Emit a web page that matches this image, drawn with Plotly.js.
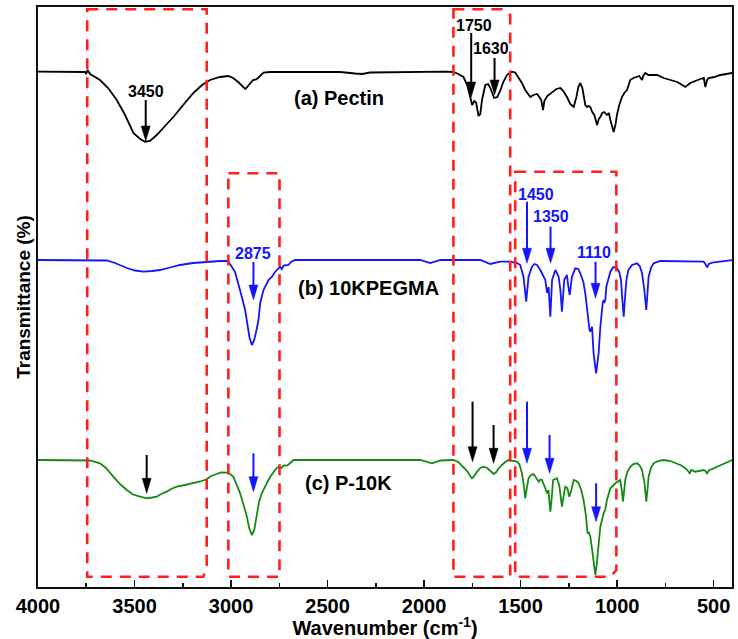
<!DOCTYPE html>
<html>
<head>
<meta charset="utf-8">
<script src="https://cdn.plot.ly/plotly-3.0.1.min.js"></script>
<style>html,body{margin:0;padding:0;background:#fff;}#chart{width:738px;height:639px;}</style>
</head>
<body>
<div id="chart"></div>
<script>
// ---- Data (wavenumber in cm^-1, transmittance in arbitrary offset units) ----
var pectinWn = [4000,3782,3756,3751,3743,3730,3679,3637,3592,3549,3506,3471,3445,3420,3385,3342,3299,3248,3195,3150,3109,3057,3015,2989,2963,2937,2925,2912,2886,2870,2860,2832,2798,2642,2435,2357,2321,2279,2124,1968,1891,1848,1823,1796,1777,1761,1751,1740,1730,1718,1709,1700,1683,1668,1657,1637,1621,1606,1590,1571,1545,1528,1511,1493,1476,1460,1450,1434,1415,1403,1393,1384,1377,1362,1337,1315,1294,1279,1260,1243,1225,1211,1201,1191,1180,1174,1165,1156,1149,1139,1129,1118,1104,1095,1087,1077,1067,1053,1043,1035,1025,1018,1009,1001,989,975,963,949,942,932,916,897,885,871,865,854,838,828,793,759,724,689,667,647,621,586,569,551,543,534,526,496,465,434,404];
var pectinT  = [515.3,515.3,515,513,517,513,507,499,487,472,454,448,445.3,446,452,461,470,482,494,502,507,510,511,509,505,500,498,501,507,507.5,509,514.3,515,515,515,513.5,513,514.5,515,515,515.3,515,513,510,502,490,482,486,484,471,473,487,502,503,499,489,490,496,505,512,515.3,514.5,510,504,497,492,490,492,493,490,487,477,486,491,495,498,499,496,490,483,480,490,500,504,499,490,482,480,481,480,475,472,462,468,470,474,475,472,474,467,459,455,462,472,482,490,494,497,501,507,509,510,511,507,511,514,512,512,512,509,507,505,502.5,500,504,507,508,509,500,507,509,510,512,513,514];

var pegmaWn = [4000,3679,3644,3601,3540,3497,3454,3409,3368,3316,3264,3197,3126,3057,3022,3005,2979,2962,2944,2927,2917,2904,2892,2880,2868,2858,2849,2832,2806,2789,2772,2755,2746,2737,2728,2703,2690,2668,2020,1968,1916,1709,1657,1606,1554,1519,1502,1485,1471,1459,1441,1429,1415,1398,1383,1372,1363,1355,1346,1337,1320,1303,1294,1286,1274,1260,1254,1246,1234,1217,1201,1191,1175,1165,1155,1148,1143,1139,1130,1122,1109,1096,1087,1075,1070,1067,1061,1056,1046,1035,1020,1001,989,980,973,966,960,952,942,923,897,883,871,859,849,842,837,823,811,776,672,552,543,534,525,508,396];
var pegmaT  = [327,327,326.5,324,319,316.5,315.3,316,317,319.5,322,324,325.3,326,326,323,315,304,290,277,265,249,242,247,257,267,284,297,307,310,315,319,320.3,318,321.5,322,325,327,327,324,327,327,323,325.3,325.3,324,322,310.3,285.3,310.3,320.3,323,322,317,311,307,294,300,270.3,307,317,310.3,297,275.3,307,312,302,292,310.3,318.7,318,313.7,305,293.7,277,263.7,257,255.3,260.3,233.7,213.7,233.7,260.3,283.7,287,284,287,300.3,309,315.3,320,318.7,315,307,287,270.3,287,307,317,322,323.7,321,313.7,297,277,292,310.3,320,323.7,326,325.5,325.3,323,319.7,323,324.3,327];

var p10kWn = [4000,3756,3730,3679,3648,3610,3575,3540,3508,3471,3437,3409,3385,3362,3333,3311,3281,3238,3195,3160,3126,3103,3074,3052,3022,3005,2988,2971,2953,2935,2918,2906,2892,2880,2866,2855,2841,2829,2815,2798,2780,2764,2746,2738,2728,2711,2699,2685,2677,2020,1959,1916,1848,1823,1796,1777,1761,1752,1740,1726,1709,1692,1673,1657,1640,1626,1616,1597,1580,1562,1543,1519,1507,1493,1483,1476,1468,1459,1447,1433,1419,1406,1398,1389,1377,1363,1356,1346,1338,1332,1312,1300,1286,1276,1269,1258,1248,1237,1225,1211,1199,1186,1174,1162,1153,1147,1139,1127,1119,1113,1106,1100,1087,1070,1061,1053,1035,1009,994,984,976,970,963,958,947,932,916,897,885,871,859,849,842,837,825,811,787,759,724,689,667,647,637,624,616,595,574,552,543,534,525,500,465,434,404];
var p10kT  = [127,127,126.5,123.7,119,110.3,103,97,92.5,90.3,88.7,89.5,90.3,93,95.3,98,100.3,102,103.7,105.5,107.7,111,113,114.5,114.3,113,110.3,103,93.7,82,70.3,59,52,57,73.7,85,93.7,99,103.7,110,115.3,119,120.3,119,121.5,121.3,123,125.3,127,127,123.7,126.5,127,125,120.3,116,111,108.7,111,115.3,119,120.3,119,116,113,115,118,122,125,127,126.5,125.3,123,113.7,101,88.7,99,108.7,112,113,109,105.3,107.5,107,101,93.7,97,75.3,91,107,108.7,102,80.3,92,100.3,99,90.3,97,107,106,103.7,97,87,72,53.7,55,50.3,33.7,22,12,22,33.7,60.3,73.7,78,87,98.7,103.7,106,107,97,85.3,97,107,115,120.3,123,123.7,122,117,105,85.3,99,110.3,119,123.7,126,127,126,123.7,121.5,118.7,117,113.7,117,115.3,116.5,117,116,113.7,116.5,118.7,121.5,124,127];

var seriesNames = ['(a) Pectin', '(b) 10KPEGMA', '(c) P-10K'];
var xTickVals = [4000, 3500, 3000, 2500, 2000, 1500, 1000, 500];

// ---- Styling / decoration ----
var FONT = 'Arial, "Liberation Sans", sans-serif';
var BLUE = '#1414ff', GREEN = '#148a14', BLACK = '#000000', RED = '#ff1f1f';

var traces = [
  {x: pectinWn, y: pectinT, name: seriesNames[0], mode: 'lines', line: {color: BLACK, width: 1.8}},
  {x: pegmaWn,  y: pegmaT,  name: seriesNames[1], mode: 'lines', line: {color: BLUE,  width: 1.8}},
  {x: p10kWn,   y: p10kT,   name: seriesNames[2], mode: 'lines', line: {color: GREEN, width: 1.8}}
];

var redLine = {color: RED, width: 2.6, dash: '11px,8px'};
var shapes = [
  {type: 'path', xref: 'x', yref: 'y', path: 'M3745,577.7 L3126,577.7 L3126,22 L3143,10.3 L3745,10.3 Z', line: redLine},
  {type: 'path', xref: 'x', yref: 'y', path: 'M3014,413.7 L2749,413.7 L2749,10.3 L3014,10.3 Z', line: redLine},
  {type: 'path', xref: 'x', yref: 'y', path: 'M1848,577.7 L1597,577.7 L1554,572 L1554,10.3 L1848,10.3 Z', line: redLine},
  {type: 'path', xref: 'x', yref: 'y', path: 'M1528,415.3 L1004,415.3 L1004,17 L1035,10.3 L1528,10.3 Z', line: redLine}
];

// arrows: x position, tail value, tip value, colour
var arrows = [
  [3442, 487, 446, BLACK], [1756, 554, 490, BLACK], [1635, 529, 492, BLACK],
  [2884, 325, 287, BLUE], [1467, 385.3, 323.7, BLUE], [1345, 360.3, 323.7, BLUE], [1112, 325.3, 288.7, BLUE],
  [3437, 132, 93.7, BLACK], [2884, 133.7, 95.3, BLUE], [1749, 185.3, 125.3, BLACK], [1640, 162, 123.7, BLACK],
  [1467, 185.3, 123.7, BLUE], [1350, 152, 113.7, BLUE], [1109, 103.7, 65.3, BLUE]
];
arrows.forEach(function (a) {
  shapes.push({type: 'line', xref: 'x', yref: 'y', x0: a[0], x1: a[0], y0: a[1], y1: a[2] + 10,
               line: {color: a[3], width: 2}});
  shapes.push({type: 'path', xref: 'x', yref: 'y', xsizemode: 'pixel', ysizemode: 'pixel',
               xanchor: a[0], yanchor: a[2], path: 'M0,0 L-4.5,15 L4.5,15 Z',
               fillcolor: a[3], line: {color: a[3], width: 0.5}});
});

function lab(x, y, text, color, size, anchor) {
  return {x: x, y: y, xref: 'x', yref: 'y', text: text, showarrow: false,
          xanchor: anchor || 'center', yanchor: 'middle',
          font: {family: FONT, size: size, color: color, weight: 'bold'}};
}
var annotations = [
  lab(3442, 495.3, '3450', BLACK, 16), lab(1740, 562, '1750', BLACK, 16), lab(1654, 538.7, '1630', BLACK, 16),
  lab(2884, 334, '2875', BLUE, 16), lab(1420, 393, '1450', BLUE, 16), lab(1341, 370.3, '1350', BLUE, 16),
  lab(1118, 334.3, '1110', BLUE, 16),
  lab(2685, 488.7, seriesNames[0], BLACK, 20, 'left'),
  lab(2663, 298.7, seriesNames[1], BLACK, 20, 'left'),
  lab(2625, 103.7, seriesNames[2], BLACK, 20, 'left')
];

var layout = {
  width: 738, height: 639,
  margin: {l: 38, r: 6, t: 7, b: 52, pad: 0},
  paper_bgcolor: '#ffffff', plot_bgcolor: '#ffffff',
  showlegend: false,
  font: {family: FONT, color: '#000'},
  xaxis: {
    range: [4000, 405], tickvals: xTickVals, ticks: 'inside', ticklen: 7, tickwidth: 1.6, tickcolor: '#111',
    minor: {ticks: 'inside', dtick: 250, tick0: 0, ticklen: 4, tickwidth: 1.6, tickcolor: '#111'},
    showline: true, linewidth: 2, linecolor: '#111', mirror: true,
    showgrid: false, zeroline: false,
    tickfont: {family: FONT, size: 20, weight: 'bold', color: '#000'},
    title: {text: 'Wavenumber (cm<sup>-1</sup>)', font: {family: FONT, size: 20, weight: 'bold', color: '#000'}, standoff: 2}
  },
  yaxis: {
    range: [0, 580], showticklabels: false, ticks: '',
    showline: true, linewidth: 2, linecolor: '#111', mirror: true,
    showgrid: false, zeroline: false,
    title: {text: 'Transmittance (%)', font: {family: FONT, size: 19, weight: 'bold', color: '#000'}, standoff: 0}
  },
  shapes: shapes,
  annotations: annotations
};

Plotly.newPlot('chart', traces, layout, {staticPlot: true, displayModeBar: false});
</script>
</body>
</html>
